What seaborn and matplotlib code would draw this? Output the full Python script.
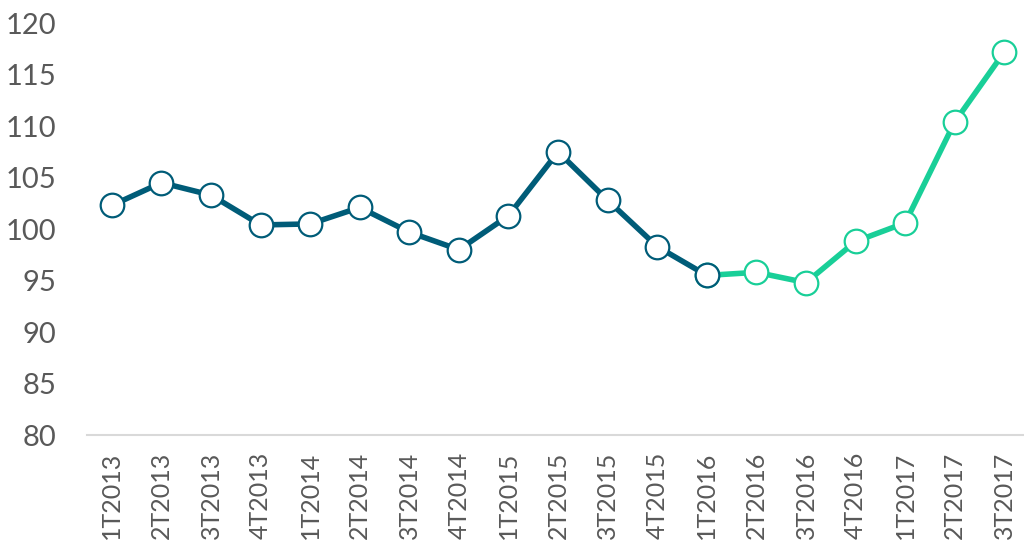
import pandas as pd
import matplotlib.pyplot as plt
import seaborn as sns

# Quarter labels and index values
quarters = ['1T2013', '2T2013', '3T2013', '4T2013', '1T2014', '2T2014', '3T2014', '4T2014',
            '1T2015', '2T2015', '3T2015', '4T2015', '1T2016', '2T2016', '3T2016', '4T2016',
            '1T2017', '2T2017', '3T2017']
values = [102.3, 104.5, 103.3, 100.4, 100.5, 102.1, 99.7, 98.0,
          101.3, 107.5, 102.8, 98.3, 95.5, 95.8, 94.8, 98.8,
          100.6, 110.4, 117.2]
split_at = 12  # 1T2016: dark line ends here, green line starts here

df = pd.DataFrame({'pos': range(len(quarters)), 'quarter': quarters, 'value': values})
past = df.iloc[:split_at + 1]
recent = df.iloc[split_at:]

sns.set_theme(style='white')
plt.rcParams['font.family'] = ['Lato', 'DejaVu Sans']

dark = '#005C78'
green = '#19CF98'

fig = plt.figure(figsize=(10.24, 5.5), dpi=100)
ax = fig.add_axes([0.085, 0.209, 0.92, 0.749])

marker_kw = dict(marker='o', markersize=17, markerfacecolor='white', markeredgewidth=1.6)
sns.lineplot(data=recent, x='pos', y='value', ax=ax, color=green, linewidth=4,
             markeredgecolor=green, **marker_kw)
sns.lineplot(data=past, x='pos', y='value', ax=ax, color=dark, linewidth=4,
             markeredgecolor=dark, **marker_kw)

ax.set_xlim(-0.5, len(quarters) - 0.5)
ax.set_ylim(80, 120)
ax.set_yticks(range(80, 121, 5))
ax.set_xticks(df['pos'])
ax.set_xticklabels(quarters, rotation=90, va='top')
ax.tick_params(axis='y', labelsize=21, labelcolor='#595959', length=0, pad=22)
ax.tick_params(axis='x', labelsize=18, labelcolor='#595959', length=0, pad=12)
ax.set_xlabel('')
ax.set_ylabel('')

for side in ['top', 'right', 'left']:
    ax.spines[side].set_visible(False)
ax.spines['bottom'].set_color('#D9D9D9')
ax.spines['bottom'].set_linewidth(1.5)

fig.savefig('out.png', dpi=100)
